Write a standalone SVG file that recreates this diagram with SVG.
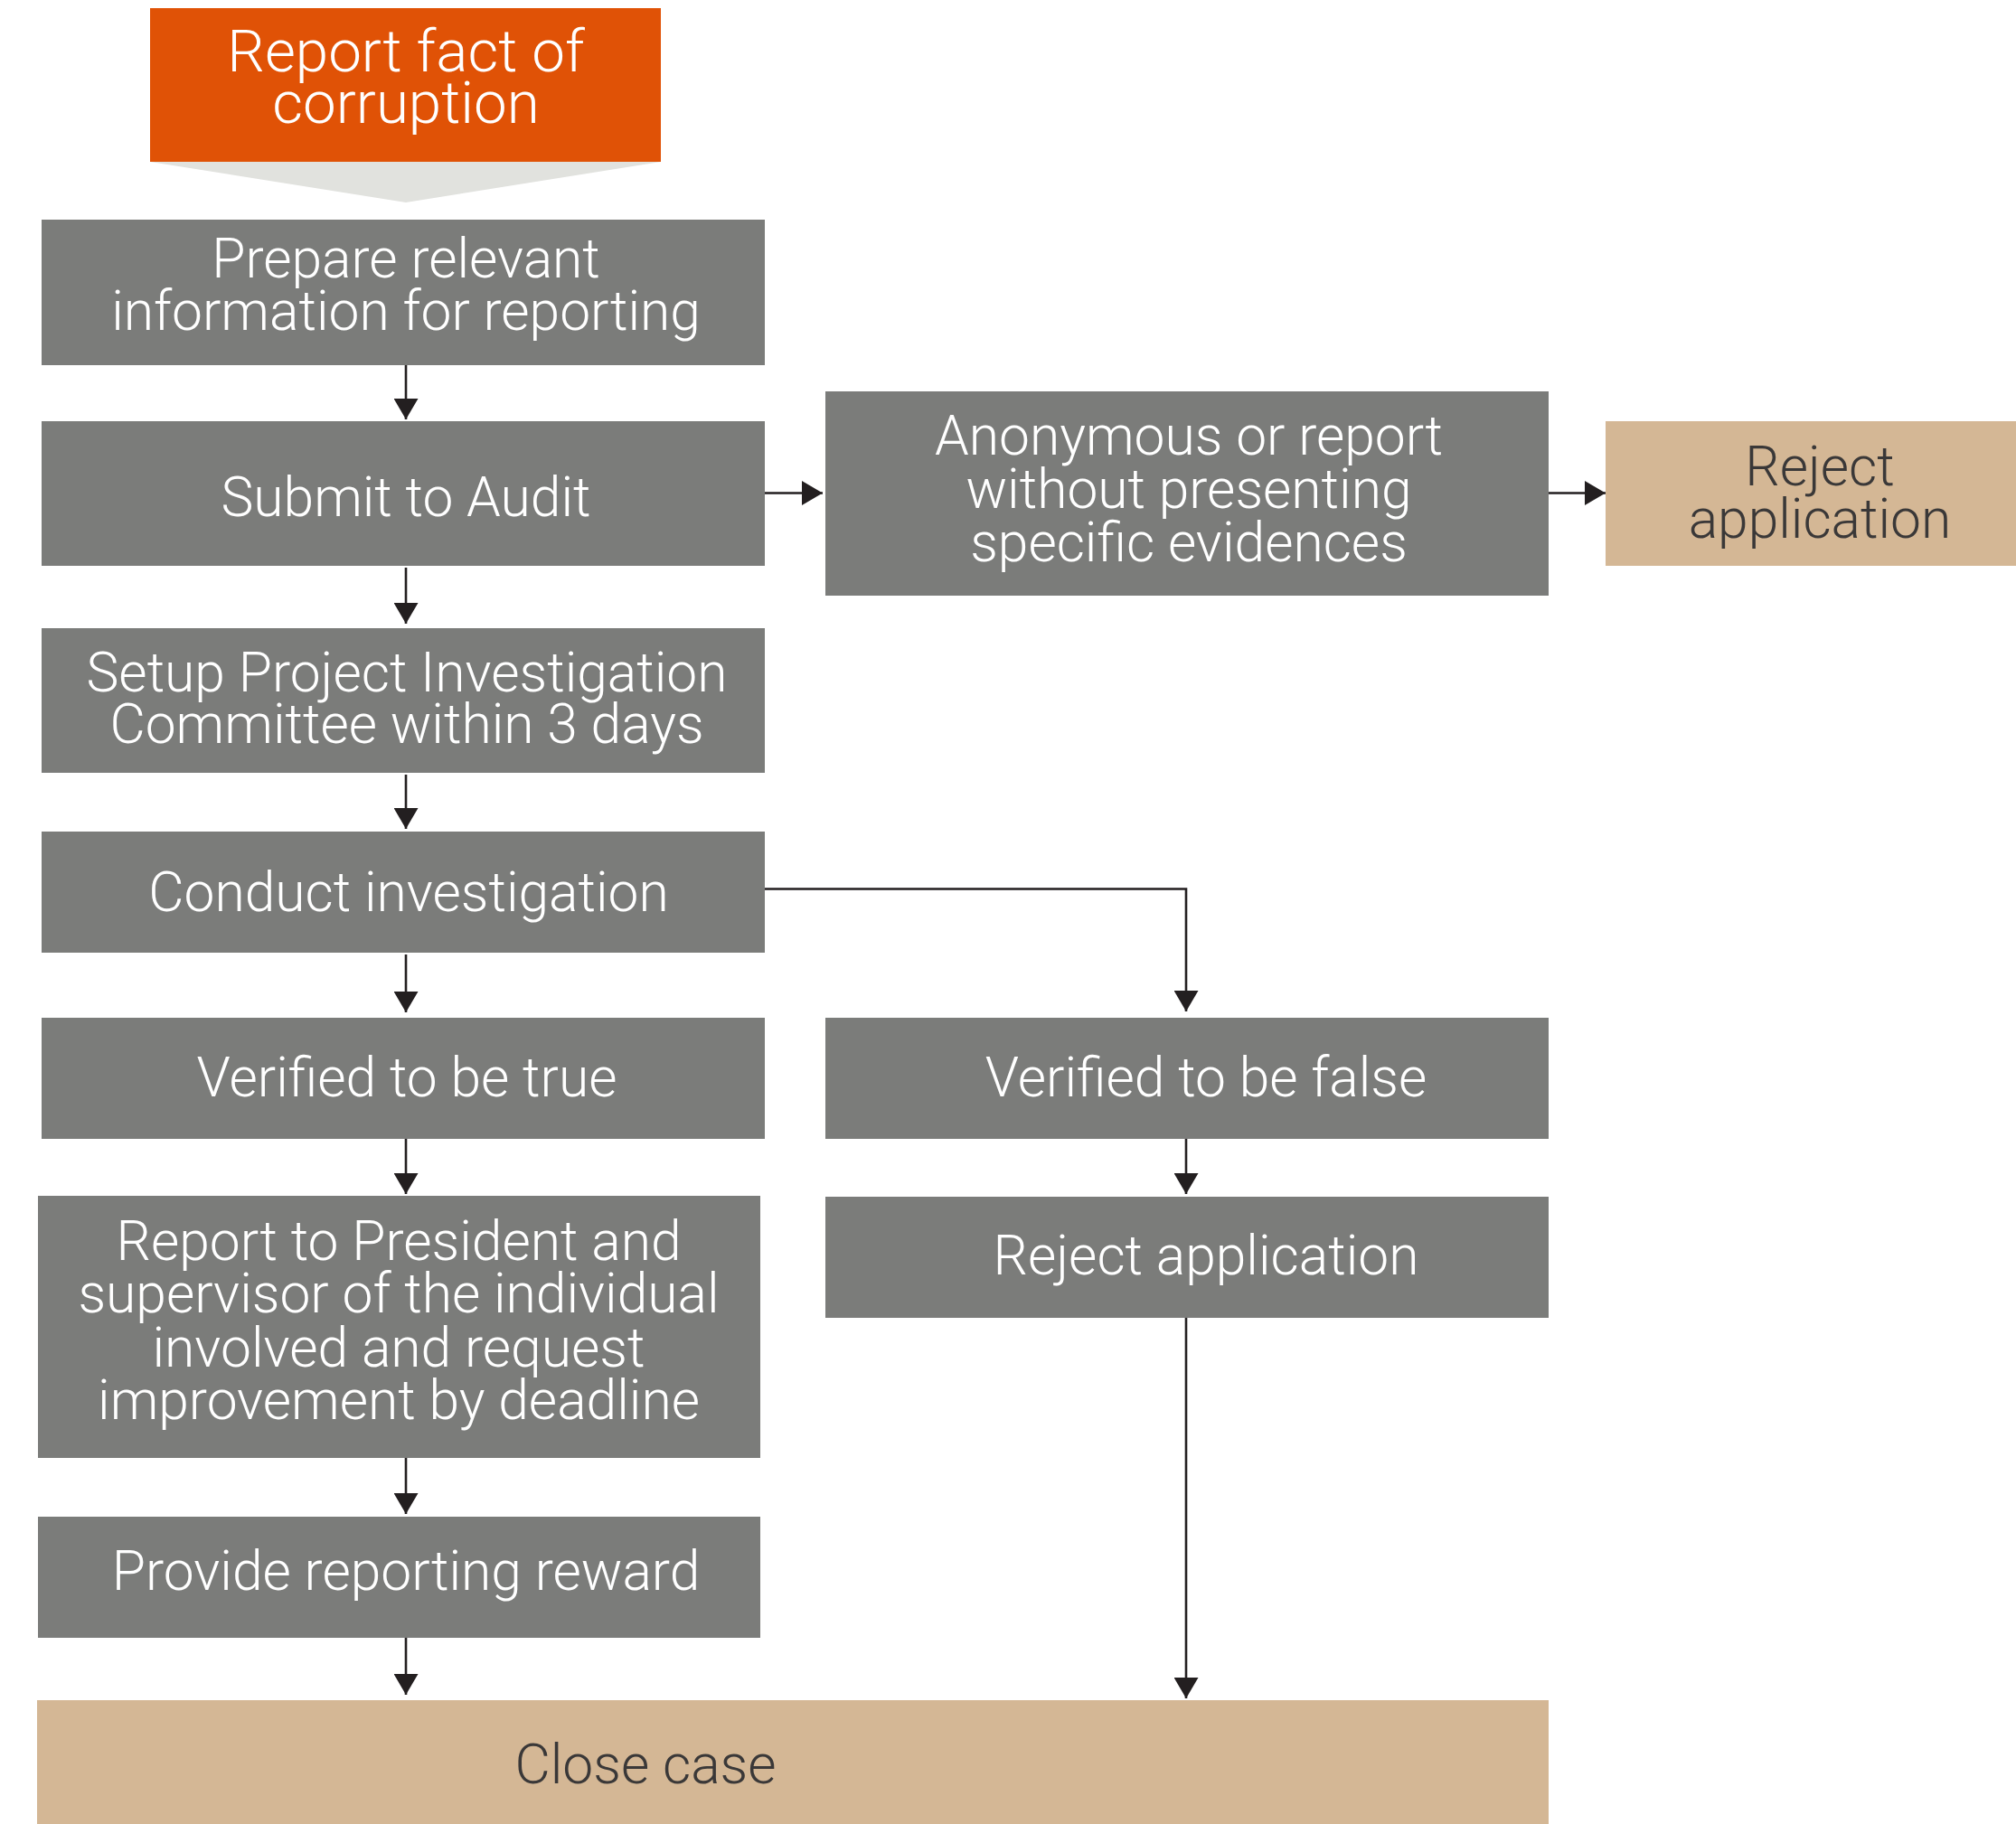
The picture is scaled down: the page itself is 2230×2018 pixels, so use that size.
<svg xmlns="http://www.w3.org/2000/svg" width="2230" height="2018" viewBox="0 0 2230 2018">
<style>
  .box{fill:#7b7c7a}
  .tan{fill:#d4b795}
  .t{font-family:Roboto,"Liberation Sans",sans-serif;font-weight:300;font-size:60.5px;text-anchor:middle;fill:#ffffff}
  .big{font-size:65.5px}
  .d{fill:#3a3838}
  .ln{stroke:#231f20;stroke-width:2.6;fill:none}
</style>
<defs>
  <marker id="ah" viewBox="0 0 23 27" refX="23" refY="13.5" markerWidth="23" markerHeight="27" markerUnits="userSpaceOnUse" orient="auto">
    <path d="M0,0 L23,13.5 L0,27 Z" fill="#231f20"/>
  </marker>
</defs>
<rect width="2230" height="2018" fill="#ffffff"/>
<g id="connectors">
  <polygon points="166,179 731,179 449,224" fill="#e1e2de"/>
  <line class="ln" x1="449" y1="404" x2="449" y2="464" marker-end="url(#ah)"/>
  <line class="ln" x1="449" y1="628" x2="449" y2="690" marker-end="url(#ah)"/>
  <line class="ln" x1="449" y1="857" x2="449" y2="917" marker-end="url(#ah)"/>
  <line class="ln" x1="449" y1="1056" x2="449" y2="1120" marker-end="url(#ah)"/>
  <line class="ln" x1="449" y1="1260" x2="449" y2="1321" marker-end="url(#ah)"/>
  <line class="ln" x1="449" y1="1613" x2="449" y2="1675" marker-end="url(#ah)"/>
  <line class="ln" x1="449" y1="1812" x2="449" y2="1875" marker-end="url(#ah)"/>
  <line class="ln" x1="846" y1="545.5" x2="910" y2="545.5" marker-end="url(#ah)"/>
  <line class="ln" x1="1713" y1="545.5" x2="1776" y2="545.5" marker-end="url(#ah)"/>
  <polyline class="ln" points="846,983.5 1312,983.5 1312,1119" marker-end="url(#ah)"/>
  <line class="ln" x1="1312" y1="1260" x2="1312" y2="1321" marker-end="url(#ah)"/>
  <line class="ln" x1="1312" y1="1458" x2="1312" y2="1879" marker-end="url(#ah)"/>
</g>
<g id="report-fact">
  <rect x="166" y="9" width="565" height="170" fill="#e05206"/>
  <text class="t big" x="449" y="79">Report fact of</text>
  <text class="t big" x="449" y="136">corruption</text>
</g>
<g id="prepare">
  <rect class="box" x="46" y="243" width="800" height="161"/>
  <text class="t" x="449" y="307">Prepare relevant</text>
  <text class="t" x="449" y="365">information for reporting</text>
</g>
<g id="submit">
  <rect class="box" x="46" y="466" width="800" height="160"/>
  <text class="t" x="449" y="571">Submit to Audit</text>
</g>
<g id="anonymous">
  <rect class="box" x="913" y="433" width="800" height="226"/>
  <text class="t" x="1315" y="503">Anonymous or report</text>
  <text class="t" x="1315" y="562">without presenting</text>
  <text class="t" x="1315" y="621">specific evidences</text>
</g>
<g id="reject-tan">
  <rect class="tan" x="1776" y="466" width="454" height="160"/>
  <text class="t d" x="2013" y="537">Reject</text>
  <text class="t d" x="2013" y="595">application</text>
</g>
<g id="setup">
  <rect class="box" x="46" y="695" width="800" height="160"/>
  <text class="t" x="450" y="765">Setup Project Investigation</text>
  <text class="t" x="450" y="822">Committee within 3 days</text>
</g>
<g id="conduct">
  <rect class="box" x="46" y="920" width="800" height="134"/>
  <text class="t" x="452" y="1008">Conduct investigation</text>
</g>
<g id="verified-true">
  <rect class="box" x="46" y="1126" width="800" height="134"/>
  <text class="t" x="450" y="1213">Verified to be true</text>
</g>
<g id="verified-false">
  <rect class="box" x="913" y="1126" width="800" height="134"/>
  <text class="t" x="1334" y="1213">Verified to be false</text>
</g>
<g id="report-president">
  <rect class="box" x="42" y="1323" width="799" height="290"/>
  <text class="t" x="441" y="1394">Report to President and</text>
  <text class="t" x="441" y="1452">supervisor of the individual</text>
  <text class="t" x="441" y="1512">involved and request</text>
  <text class="t" x="441" y="1570">improvement by deadline</text>
</g>
<g id="reject-gray">
  <rect class="box" x="913" y="1324" width="800" height="134"/>
  <text class="t" x="1334" y="1410">Reject application</text>
</g>
<g id="provide">
  <rect class="box" x="42" y="1678" width="799" height="134"/>
  <text class="t" x="449" y="1759">Provide reporting reward</text>
</g>
<g id="close">
  <rect class="tan" x="41" y="1881" width="1672" height="137"/>
  <text class="t d" x="714" y="1973">Close case</text>
</g>
</svg>
